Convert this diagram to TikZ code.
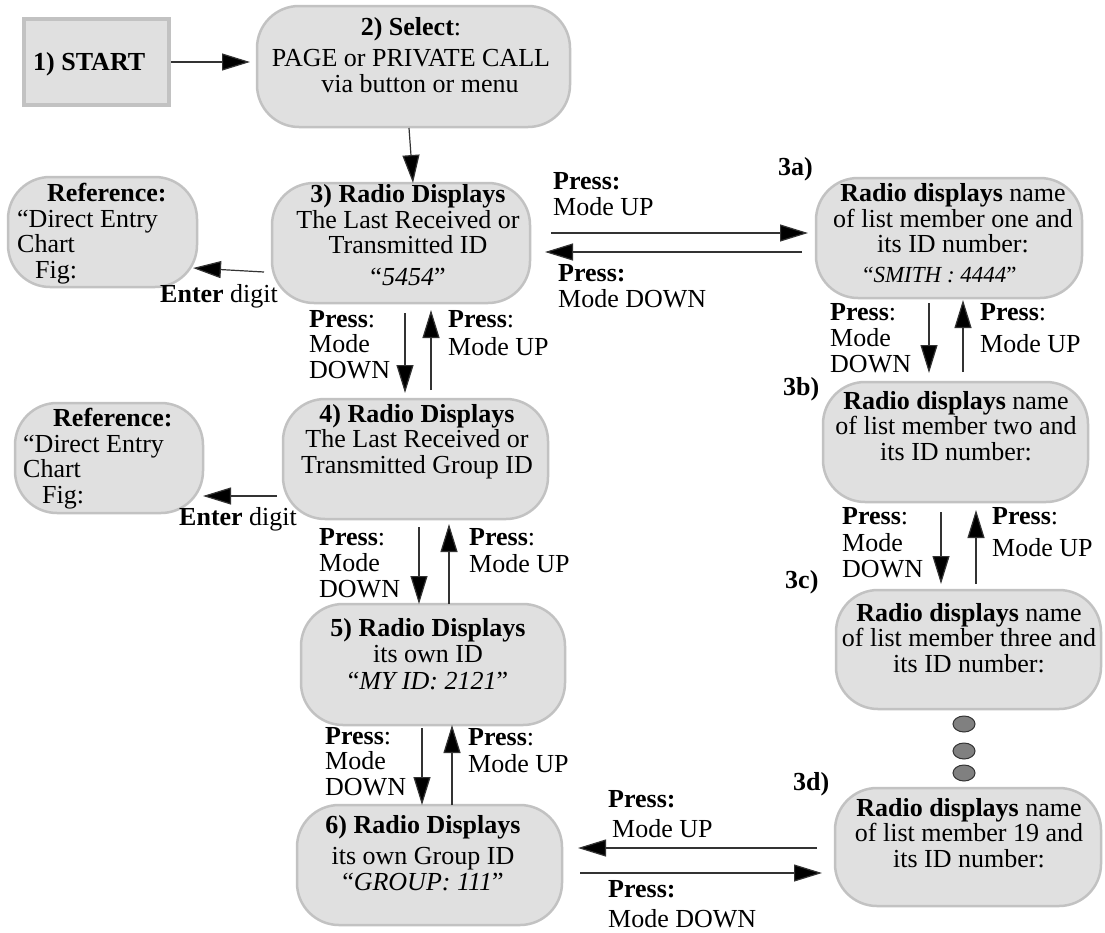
\documentclass[tikz,border=0pt]{standalone}
\usepackage{fontspec}
\setmainfont{Liberation Serif}
\usetikzlibrary{arrows.meta,shapes.geometric}
\definecolor{boxfill}{HTML}{E0E0E0}
\definecolor{boxline}{HTML}{C2C2C2}
\definecolor{dotfill}{HTML}{808080}
\newcommand\mainfs{\fontsize{26}{25.5}\selectfont}
\begin{document}
\begin{tikzpicture}[x=1pt,y=-1pt,
  every node/.style={font=\mainfs},
  rbox/.style={draw=boxline, fill=boxfill, line width=2.5pt, rounded corners=42pt, inner sep=0pt, outer sep=0pt},
  sbox/.style={draw=boxline, fill=boxfill, line width=4.5pt, inner sep=0pt, outer sep=0pt},
  txt/.style={anchor=base, align=center, inner sep=0pt},
  lbl/.style={anchor=base west, align=left, inner sep=0pt},
  arr/.style={draw=black!80, line width=1.2pt, -{Triangle[length=28pt,width=17pt,fill=black]}},
  dotnode/.style={ellipse, draw=black!80, fill=dotfill, line width=1pt, minimum width=22pt, minimum height=16pt, inner sep=0pt}
]
\useasboundingbox (0,0) rectangle (1105,932);

% boxes
\node[sbox, minimum width=145pt, minimum height=86pt] (start) at (96.5,62) {};
\node[rbox, minimum width=313pt, minimum height=121pt] (sel) at (413.5,66.5) {};
\node[rbox, minimum width=258pt, minimum height=120pt] (b3) at (401,243) {};
\node[rbox, minimum width=189pt, minimum height=110pt] (ref1) at (102.5,232) {};
\node[rbox, minimum width=265pt, minimum height=120pt] (b4) at (415.5,459) {};
\node[rbox, minimum width=188pt, minimum height=110pt] (ref2) at (109,458) {};
\node[rbox, minimum width=264pt, minimum height=121pt] (b5) at (433,664.5) {};
\node[rbox, minimum width=265pt, minimum height=120pt] (b6) at (429.5,865) {};
\node[rbox, minimum width=266pt, minimum height=120pt] (b3a) at (949,238) {};
\node[rbox, minimum width=265pt, minimum height=120pt] (b3b) at (955.5,442) {};
\node[rbox, minimum width=265pt, minimum height=119pt] (b3c) at (968.5,649.5) {};
\node[rbox, minimum width=266pt, minimum height=118pt] (b3d) at (968,847) {};

% box texts (anchor = baseline of the last line)
\node[lbl] (tstart) at (33,70) {\textbf{1) START}};
\node[txt] (tsel) at (411,92) {\textbf{2) Select}:\\[6pt]PAGE or PRIVATE CALL\\\hspace*{18pt}via button or menu};
\node[txt] (t3) at (408,285) {\textbf{3) Radio Displays}\\The Last Received or\\Transmitted ID\\[6pt]“\textit{5454}”};
\node[lbl] (tref1) at (17,278) {\hspace*{30pt}\textbf{Reference:}\\“Direct Entry\\Chart\\\hspace*{18pt}Fig:};
\node[lbl] (tref2) at (23,503) {\hspace*{30pt}\textbf{Reference:}\\“Direct Entry\\Chart\\\hspace*{19pt}Fig:};
\node[txt] (t4) at (417,473) {\textbf{4) Radio Displays}\\The Last Received or\\Transmitted Group ID};
\node[txt] (t5) at (428,689) {\textbf{5) Radio Displays}\\[1pt]its own ID\\[1pt]“\textit{MY ID: 2121}”};
\node[txt] (t6) at (423,890) {\textbf{6) Radio Displays}\\[6pt]its own Group ID\\“\textit{GROUP: 111}”};
\node[txt] (t3a) at (953,282) {\textbf{Radio displays} name\\of list member one and\\its ID number:\\[4pt]\hspace*{-26pt}{\fontsize{23}{23}\selectfont “\textit{SMITH : 4444}”}};
\node[txt] (t3b) at (956,460) {\textbf{Radio displays} name\\of list member two and\\its ID number:};
\node[txt] (t3c) at (969,672) {\textbf{Radio displays} name\\of list member three and\\its ID number:};
\node[txt] (t3d) at (969,867) {\textbf{Radio displays} name\\of list member 19 and\\its ID number:};

% step labels
\node[lbl] (l3a) at (778,175) {\textbf{3a)}};
\node[lbl] (l3b) at (783,395) {\textbf{3b)}};
\node[lbl] (l3c) at (785,588) {\textbf{3c)}};
\node[lbl] (l3d) at (793,790) {\textbf{3d)}};

% dots
\node[dotnode] (d1) at (964,724) {};
\node[dotnode] (d2) at (964,751) {};
\node[dotnode] (d3) at (964,773) {};

% connector labels (anchor = baseline of the last line)
\node[lbl] (e1) at (160,302) {\textbf{Enter} digit};
\node[lbl] (e2) at (179,525) {\textbf{Enter} digit};
\node[lbl] (p3u) at (553,215) {\textbf{Press:}\\Mode UP};
\node[lbl] (p3d) at (558,307) {\textbf{Press:}\\Mode DOWN};
\node[lbl] (p34d) at (309,378) {\textbf{Press}:\\Mode\\DOWN};
\node[lbl] (p34u) at (448,355) {\textbf{Press}:\\[2pt]Mode UP};
\node[lbl] (p45d) at (319,597) {\textbf{Press}:\\[1pt]Mode\\DOWN};
\node[lbl] (p45u) at (469,572) {\textbf{Press}:\\[1pt]Mode UP};
\node[lbl] (p56d) at (325,795) {\textbf{Press}:\\Mode\\DOWN};
\node[lbl] (p56u) at (468,772) {\textbf{Press}:\\[1pt]Mode UP};
\node[lbl] (pabd) at (830,372) {\textbf{Press}:\\[1pt]Mode\\DOWN};
\node[lbl] (pabu) at (980,352) {\textbf{Press}:\\[6pt]Mode UP};
\node[lbl] (pbcd) at (842,577) {\textbf{Press}:\\[2pt]Mode\\DOWN};
\node[lbl] (pbcu) at (992,556) {\textbf{Press}:\\[6pt]Mode UP};
\node[lbl] (p6u) at (608,837) {\textbf{Press:}\\[4pt]\hspace*{4pt}Mode UP};
\node[lbl] (p6d) at (608,927) {\textbf{Press:}\\[4pt]Mode DOWN};

% connectors
\draw[arr, shorten <=2pt, shorten >=7pt] (start.east) -- (start.east -| sel.west);
\draw[arr] ([xshift=-4.5pt,yshift=-1pt]sel.south) -- ([xshift=12pt]b3.north);
\draw[arr] ([xshift=-8pt,yshift=-29pt]b3.west) -- ([xshift=-4pt,yshift=-36pt]ref1.east);
\draw[arr] ([xshift=-6pt,yshift=-37pt]b4.west) -- ([yshift=-38pt]ref2.east);
\draw[arr] ([xshift=4pt,yshift=-10pt]b3.south) -- ([xshift=-10.5pt,yshift=6pt]b4.north);
\draw[arr] ([xshift=15.5pt,yshift=9pt]b4.north) -- ([xshift=30pt,yshift=-7pt]b3.south);
\draw[arr] ([xshift=3.5pt,yshift=-8pt]b4.south) -- ([xshift=-14pt]b5.north);
\draw[arr] ([xshift=16pt]b5.north) -- ([xshift=33.5pt,yshift=-5pt]b4.south);
\draw[arr] ([xshift=-11pt,yshift=-3pt]b5.south) -- ([xshift=-7.5pt]b6.north);
\draw[arr] ([xshift=22.5pt]b6.north) -- ([xshift=19pt]b5.south);
\draw[arr] ([xshift=21pt,yshift=10pt]b3.east) -- ([xshift=-8pt,yshift=5pt]b3a.west);
\draw[arr] ([xshift=-14pt,yshift=-14pt]b3a.west) -- ([xshift=15pt,yshift=-9pt]b3.east);
\draw[arr] ([xshift=-20pt,yshift=-5pt]b3a.south) -- ([xshift=-26.5pt,yshift=9pt]b3b.north);
\draw[arr] ([xshift=7.5pt,yshift=10pt]b3b.north) -- ([xshift=14pt,yshift=-2pt]b3a.south);
\draw[arr] ([xshift=-14.5pt,yshift=-10pt]b3b.south) -- ([xshift=-27.5pt,yshift=6pt]b3c.north);
\draw[arr] ([xshift=7.5pt,yshift=6pt]b3c.north) -- ([xshift=20.5pt,yshift=-8pt]b3b.south);
\draw[arr] ([xshift=-18pt,yshift=-1pt]b3d.west) -- ([xshift=16pt,yshift=17pt]b6.east);
\draw[arr] ([xshift=18pt,yshift=-8pt]b6.east) -- ([xshift=-13pt,yshift=-26pt]b3d.west);
\end{tikzpicture}
\end{document}
